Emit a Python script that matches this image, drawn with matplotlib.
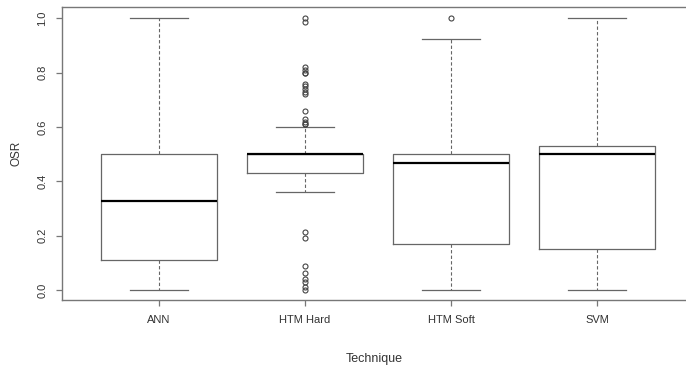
import matplotlib
matplotlib.use("Agg")
import matplotlib.pyplot as plt

plt.rcParams['font.family'] = ['Liberation Sans', 'DejaVu Sans']

techniques = ["ANN", "HTM Hard", "HTM Soft", "SVM"]
whislo = [0.0, 0.36, 0.0, 0.0]
q1 = [0.11, 0.432, 0.168, 0.151]
med = [0.327, 0.50, 0.469, 0.50]
q3 = [0.50, 0.50, 0.50, 0.53]
whishi = [1.0, 0.60, 0.923, 1.0]
fliers = [
    [],
    [1.0, 0.988, 0.82, 0.81, 0.80, 0.80, 0.76, 0.75, 0.74, 0.73, 0.72,
     0.66, 0.63, 0.62, 0.61, 0.61,
     0.213, 0.19, 0.089, 0.064, 0.04, 0.03, 0.01, 0.0],
    [1.0],
    [],
]

stats = []
for i, name in enumerate(techniques):
    stats.append(dict(label=name, whislo=whislo[i], q1=q1[i], med=med[i],
                      q3=q3[i], whishi=whishi[i], fliers=fliers[i]))

fig = plt.figure(figsize=(6.86, 3.66), dpi=100)
ax = fig.add_axes([62 / 686, 66 / 366, 1 - 62 / 686, (300 - 7) / 366])

line_col = "#666666"
ax.bxp(stats, positions=[1, 2, 3, 4], widths=0.8, showfliers=True,
       boxprops=dict(color=line_col, linewidth=0.9),
       medianprops=dict(color="black", linewidth=1.6),
       whiskerprops=dict(color=line_col, linewidth=0.8, linestyle=(0, (3, 2))),
       capprops=dict(color=line_col, linewidth=0.9),
       capwidths=0.4,
       flierprops=dict(marker="o", markersize=3.6, markerfacecolor="none",
                       markeredgecolor="#444444", markeredgewidth=0.8))

# R style limits, plot region cut at the right edge
ax.set_xlim(1 - (159 - 62) / 146, 1 + (686 - 159) / 146)
ax.set_ylim((290 - 300) / 271.7, (290 - 7) / 271.7)

ax.set_yticks([0.0, 0.2, 0.4, 0.6, 0.8, 1.0])
ax.set_yticklabels(["0.0", "0.2", "0.4", "0.6", "0.8", "1.0"], rotation=90,
                   va="center")
ax.set_xticks([1, 2, 3, 4])
ax.set_xticklabels(techniques)

for s in ["left", "top", "bottom"]:
    ax.spines[s].set_color("#777777")
    ax.spines[s].set_linewidth(1.0)
ax.spines["right"].set_visible(False)

ax.tick_params(axis="both", colors="#777777", length=4, width=0.9,
               labelcolor="#333333", labelsize=8)
ax.tick_params(axis="y", pad=6.5)
ax.tick_params(axis="x", pad=7)

ax.set_ylabel("OSR", fontsize=8.5, color="#333333", labelpad=11)
ax.set_xlabel("Technique", fontsize=9, color="#333333", labelpad=20)

fig.savefig("out.png", dpi=100)
